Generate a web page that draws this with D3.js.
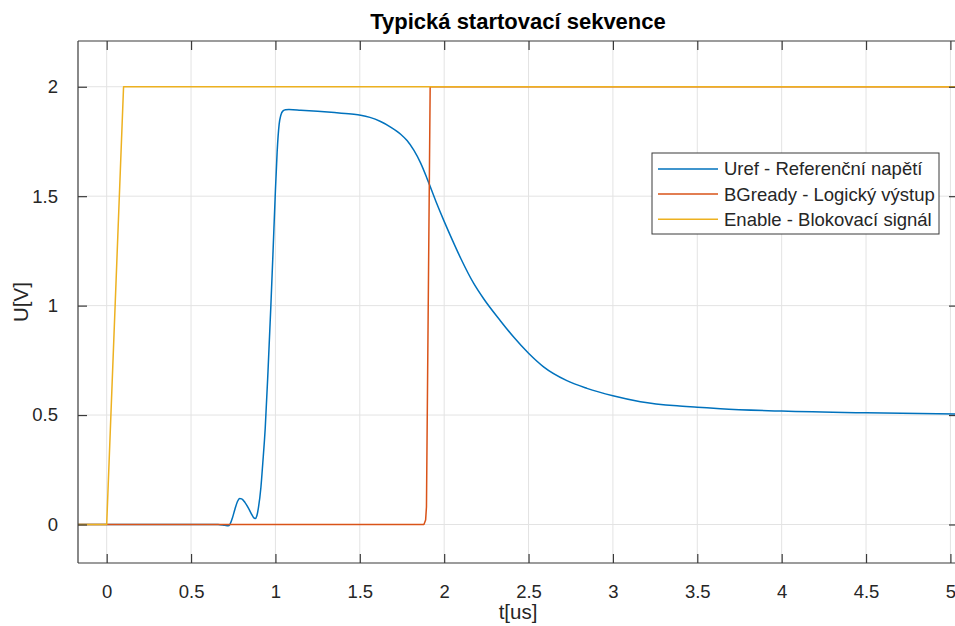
<!DOCTYPE html>
<html>
<head>
<meta charset="utf-8">
<script src="https://cdn.jsdelivr.net/npm/d3@7/dist/d3.min.js"></script>
<style>
  html, body { margin: 0; padding: 0; background: #fff; }
  svg { display: block; font-family: "Liberation Sans", Arial, sans-serif; }
</style>
</head>
<body>
<svg id="chart" width="955" height="626"></svg>
<script>
// ---------------------------------------------------------------------------
// Data (t in us, U in V)
// ---------------------------------------------------------------------------
const urefT = [-0.17, 0.60, 0.66, 0.70, 0.72, 0.73, 0.745, 0.76, 0.775, 0.788, 0.80, 0.82, 0.84,
  0.86, 0.87, 0.88, 0.89, 0.90, 0.914, 0.925, 0.9395, 0.956, 0.973, 0.986, 0.9986,
  1.01, 1.0223, 1.032, 1.045, 1.06, 1.08, 1.15, 1.25, 1.35, 1.45, 1.505, 1.56,
  1.623, 1.68, 1.742, 1.78, 1.82, 1.86, 1.90, 1.95, 2.0, 2.05, 2.10, 2.176, 2.235, 2.334,
  2.413, 2.5, 2.589, 2.727, 2.846, 3.0, 3.163, 3.38, 3.5, 3.637, 4.0, 4.5, 5.045];
const urefU = [0, 0, 0, -0.004, -0.006, 0.0, 0.03, 0.07, 0.105, 0.119, 0.117, 0.10, 0.075,
  0.045, 0.032, 0.027, 0.04, 0.08, 0.17, 0.28, 0.44, 0.70, 1.0, 1.25, 1.5,
  1.70, 1.83, 1.87, 1.89, 1.895, 1.896, 1.893, 1.888, 1.882, 1.875, 1.87, 1.86,
  1.841, 1.817, 1.783, 1.754, 1.71, 1.652, 1.578, 1.478, 1.385, 1.297, 1.213, 1.10, 1.03, 0.93,
  0.855, 0.782, 0.72, 0.657, 0.622, 0.588, 0.561, 0.542, 0.536, 0.529, 0.518, 0.51, 0.505];

const readyT = [-0.17, 1.88, 1.89, 1.895, 1.917, 5.045];
const readyU = [0, 0, 0.02, 0.08, 2, 2];

const enableT = [-0.17, 0, 0.1, 5.045];
const enableU = [0, 0, 2, 2];

const seriesNames  = ["Uref - Referenční napětí", "BGready - Logický výstup", "Enable - Blokovací signál"];
const seriesColors = ["#0072BD", "#D95319", "#EDB120"];

const xTicks = [0, 0.5, 1, 1.5, 2, 2.5, 3, 3.5, 4, 4.5, 5];
const yTicks = [0, 0.5, 1, 1.5, 2];

// ---------------------------------------------------------------------------
// Layout
// ---------------------------------------------------------------------------
const L = 78, R = 958, T = 41, B = 563;
const TICK = 9;

const x = d3.scaleLinear().domain([-0.17, 5.045]).range([L, R]);
const y = d3.scaleLinear().domain([-0.176, 2.209]).range([B, T]);

const svg = d3.select("#chart");

svg.append("defs").append("clipPath").attr("id", "plot-clip")
  .append("rect").attr("x", L).attr("y", T).attr("width", R - L).attr("height", B - T);

// Grid
const grid = svg.append("g").attr("stroke", "#e3e3e3").attr("stroke-width", 1);
grid.selectAll(".gx").data(xTicks).join("line")
  .attr("x1", d => x(d)).attr("x2", d => x(d)).attr("y1", T).attr("y2", B);
grid.selectAll(".gy").data(yTicks).join("line")
  .attr("x1", L).attr("x2", R).attr("y1", d => y(d)).attr("y2", d => y(d));

// Series
const series = [
  urefT.map((t, i) => [t, urefU[i]]),
  readyT.map((t, i) => [t, readyU[i]]),
  enableT.map((t, i) => [t, enableU[i]])
];
const curves = [d3.curveMonotoneX, d3.curveLinear, d3.curveLinear];

const plot = svg.append("g").attr("clip-path", "url(#plot-clip)");
series.forEach((pts, i) => {
  plot.append("path")
    .datum(pts)
    .attr("fill", "none")
    .attr("stroke", seriesColors[i])
    .attr("stroke-width", 1.5)
    .attr("stroke-linejoin", "round")
    .attr("d", d3.line().x(d => x(d[0])).y(d => y(d[1])).curve(curves[i]));
});

// Axes (MATLAB-style box with inward ticks on all sides)
const axisColor = "#3a3a3a";
const textColor = "#262626";

const axBottom = svg.append("g").attr("transform", `translate(0,${B})`)
  .call(d3.axisBottom(x).tickValues(xTicks).tickSize(-TICK).tickPadding(TICK + 13)
    .tickFormat(d3.format("~g")));
const axTop = svg.append("g").attr("transform", `translate(0,${T})`)
  .call(d3.axisTop(x).tickValues(xTicks).tickSize(-TICK).tickFormat(""));
const axLeft = svg.append("g").attr("transform", `translate(${L},0)`)
  .call(d3.axisLeft(y).tickValues(yTicks).tickSize(-TICK).tickPadding(TICK + 11)
    .tickFormat(d3.format("~g")));
const axRight = svg.append("g").attr("transform", `translate(${R},0)`)
  .call(d3.axisRight(y).tickValues(yTicks).tickSize(-TICK).tickFormat(""));

[axBottom, axTop, axLeft, axRight].forEach(a => {
  const horiz = a === axBottom || a === axTop;
  a.select(".domain").attr("stroke", axisColor).attr("stroke-width", 1.2)
    .attr("d", horiz ? `M${L},0H${R}` : `M0,${T}V${B}`);
  a.selectAll(".tick line").attr("stroke", axisColor).attr("stroke-width", 1.2);
  a.selectAll(".tick text").attr("fill", textColor)
    .style("font-size", "18.5px").style("font-family", "'Liberation Sans', Arial, sans-serif");
});

// Title and axis labels
svg.append("text")
  .attr("x", (L + R) / 2).attr("y", 29)
  .attr("text-anchor", "middle")
  .attr("font-size", 22).attr("font-weight", "bold").attr("fill", "#000")
  .text("Typická startovací sekvence");

svg.append("text")
  .attr("x", (L + R) / 2).attr("y", 619)
  .attr("text-anchor", "middle")
  .attr("font-size", 20.5).attr("fill", textColor)
  .text("t[us]");

svg.append("text")
  .attr("transform", `translate(28,${(T + B) / 2}) rotate(-90)`)
  .attr("text-anchor", "middle")
  .attr("font-size", 20.5).attr("fill", textColor)
  .text("U[V]");

// Legend
const legend = svg.append("g").attr("transform", "translate(652,153)");
legend.append("rect")
  .attr("width", 287).attr("height", 81)
  .attr("fill", "#fff").attr("stroke", axisColor).attr("stroke-width", 1);

const item = legend.selectAll(".item").data(seriesNames).join("g")
  .attr("transform", (d, i) => `translate(0,${16 + i * 25.1})`);
item.append("line")
  .attr("x1", 6).attr("x2", 66)
  .attr("stroke", (d, i) => seriesColors[i]).attr("stroke-width", 1.5);
item.append("text")
  .attr("x", 72).attr("dy", "0.35em")
  .attr("font-size", 18.5).attr("fill", textColor)
  .text(d => d);
</script>
</body>
</html>
